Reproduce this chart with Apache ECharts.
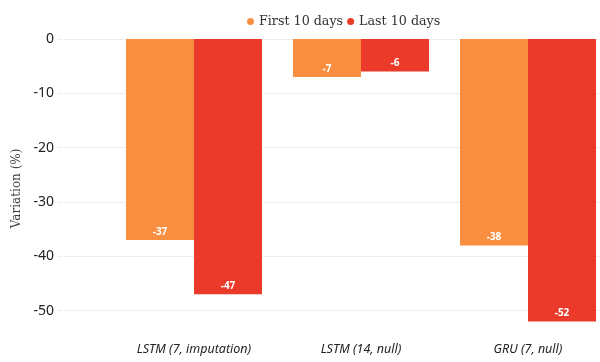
<!DOCTYPE html>
<html>
<head>
<meta charset="utf-8">
<script src="https://cdn.jsdelivr.net/npm/echarts@6/dist/echarts.min.js"></script>
<style>
  html, body { margin: 0; padding: 0; background: #fff; }
  #chart { width: 600px; height: 362px; }
</style>
</head>
<body>
<div id="chart"></div>
<script>
// Models compared and their variation over the two 10-day windows
const categories = ['LSTM (7, imputation)', 'LSTM (14, null)', 'GRU (7, null)'];
const firstTenDays = [-37, -7, -38];
const lastTenDays = [-47, -6, -52];
const yTicks = [0, -10, -20, -30, -40, -50];

const ORANGE = '#F98E40';
const RED = '#EB3A2A';

const chart = echarts.init(document.getElementById('chart'));

const barLabel = {
  show: true,
  position: 'insideBottom',
  distance: 3,
  color: '#fff',
  fontFamily: 'Noto Sans',
  fontWeight: 'bold',
  fontSize: 10
};

chart.setOption({
  animation: false,
  legend: {
    left: 242,
    top: 10,
    icon: 'circle',
    itemWidth: 7,
    itemHeight: 7,
    itemGap: 4,
    textStyle: { fontFamily: 'DejaVu Serif', fontSize: 12.7, color: '#333' },
    data: ['First 10 days', 'Last 10 days']
  },
  grid: [
    // background grid: tick labels and dotted split lines
    { left: 58, right: 0, top: 39, height: 271.7, outerBoundsMode: 'none' },
    // bar grid, wider than the canvas so the last pair runs to the edge
    { left: 110.5, width: 501, top: 39, height: 298.8, outerBoundsMode: 'none' }
  ],
  xAxis: [
    { gridIndex: 0, type: 'category', data: categories, show: false },
    {
      gridIndex: 1,
      type: 'category',
      data: categories,
      axisLine: { show: false },
      axisTick: { show: false },
      axisLabel: {
        margin: 5,
        fontFamily: 'Noto Sans',
        fontStyle: 'italic',
        fontSize: 12.5,
        color: '#222'
      }
    }
  ],
  yAxis: [
    {
      gridIndex: 0,
      type: 'value',
      min: yTicks[yTicks.length - 1],
      max: yTicks[0],
      interval: 10,
      axisLine: { show: false },
      axisTick: { show: false },
      axisLabel: {
        margin: 4,
        fontFamily: 'Noto Sans',
        fontSize: 14,
        color: '#222'
      },
      splitLine: { lineStyle: { color: '#ddd', type: 'dotted', width: 1 } }
    },
    {
      gridIndex: 1,
      type: 'value',
      min: -55,
      max: 0,
      name: 'Variation (%)',
      nameLocation: 'middle',
      nameGap: 88,
      nameTextStyle: { fontFamily: 'DejaVu Serif', fontSize: 12, color: '#444' },
      axisLine: { show: false },
      axisTick: { show: false },
      axisLabel: { show: false },
      splitLine: { show: false }
    }
  ],
  series: [
    {
      name: 'First 10 days',
      type: 'bar',
      xAxisIndex: 1,
      yAxisIndex: 1,
      data: firstTenDays,
      barWidth: 68,
      barGap: '0%',
      itemStyle: { color: ORANGE },
      label: barLabel
    },
    {
      name: 'Last 10 days',
      type: 'bar',
      xAxisIndex: 1,
      yAxisIndex: 1,
      data: lastTenDays,
      barWidth: 68,
      barGap: '0%',
      itemStyle: { color: RED },
      label: barLabel
    }
  ]
});
</script>
</body>
</html>
